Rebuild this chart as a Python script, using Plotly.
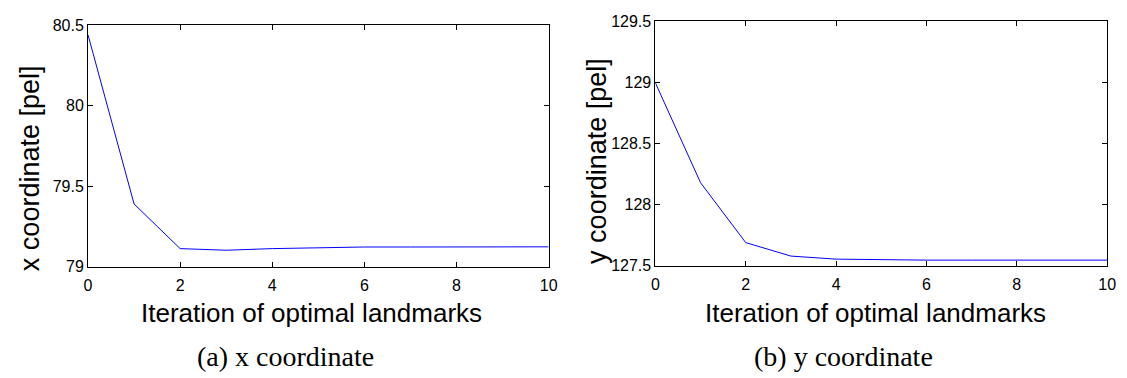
import plotly.graph_objects as go

# Iterations of the landmark optimisation
iterations = [0, 1, 2, 3, 4, 5, 6, 7, 8, 9, 10]

# Mean landmark coordinates per iteration (pixels)
x_coord = [80.44, 79.39, 79.113, 79.103, 79.113, 79.12, 79.123, 79.123, 79.124, 79.124, 79.124]
y_coord = [128.997, 128.18, 127.69, 127.58, 127.555, 127.548, 127.547, 127.547, 127.547, 127.547, 127.547]

x_ticks = [0, 2, 4, 6, 8, 10]
left_yticks = [79, 79.5, 80, 80.5]
right_yticks = [127.5, 128, 128.5, 129, 129.5]

W, H = 1127, 378
sans = "Liberation Sans, Arial, sans-serif"
serif = "Liberation Serif, Times New Roman, serif"

fig = go.Figure()
fig.add_trace(go.Scatter(x=iterations, y=x_coord, mode="lines",
                         line=dict(color="#0000ff", width=1), xaxis="x", yaxis="y"))
fig.add_trace(go.Scatter(x=iterations, y=y_coord, mode="lines",
                         line=dict(color="#0000ff", width=1), xaxis="x2", yaxis="y2"))

axis_style = dict(showline=True, linecolor="black", linewidth=1, mirror="allticks",
                  ticks="inside", ticklen=5, tickcolor="black", showgrid=False,
                  zeroline=False, tickfont=dict(family=sans, size=16, color="black"))

def px_x(p):
    return p / W

def px_y(p):
    return 1 - p / H

fig.update_layout(
    width=W, height=H, margin=dict(l=0, r=0, t=0, b=0),
    paper_bgcolor="white", plot_bgcolor="white", showlegend=False,
    xaxis=dict(domain=[px_x(85), px_x(551)], range=[0, 10], tickvals=x_ticks, anchor="y",
               ticklabelstandoff=4, **axis_style),
    yaxis=dict(domain=[px_y(271), px_y(18)], range=[79, 80.5], tickvals=left_yticks,
               ticktext=["79", "79.5", "80", "80.5"], anchor="x", **axis_style),
    xaxis2=dict(domain=[px_x(659), px_x(1116)], range=[0, 10], tickvals=x_ticks, anchor="y2",
                ticklabelstandoff=4, **axis_style),
    yaxis2=dict(domain=[px_y(270), px_y(14)], range=[127.5, 129.5], tickvals=right_yticks,
                ticktext=["127.5", "128", "128.5", "129", "129.5"], anchor="x2", **axis_style),
)

texts = [
    ("Iteration of optimal landmarks", 311, 319, 26, sans, 0),
    ("Iteration of optimal landmarks", 882, 319, 26, sans, 0),
    ("(a) x coordinate", 285, 365, 28, serif, 0),
    ("(b) y coordinate", 849, 365, 28, serif, 0),
    ("x coordinate [pel]", 27, 168, 27, sans, -90),
    ("y coordinate [pel]", 600, 160, 27, sans, -90),
]
for txt, cx, cy, size, fam, ang in texts:
    fig.add_annotation(text=txt, x=px_x(cx), y=px_y(cy), xref="paper", yref="paper",
                       showarrow=False, xanchor="center", yanchor="middle", textangle=ang,
                       font=dict(family=fam, size=size, color="black"))

fig.write_html("out.html")
